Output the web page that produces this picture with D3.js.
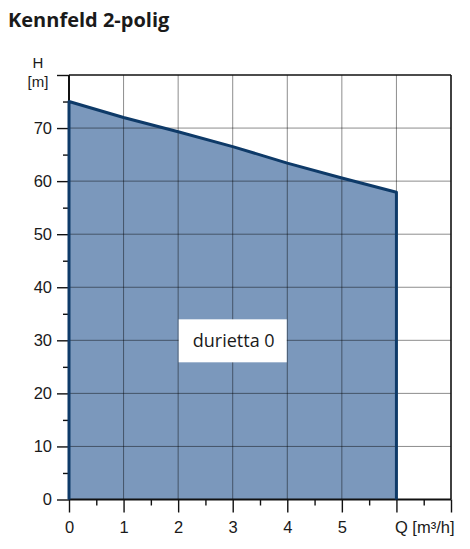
<!DOCTYPE html>
<html>
<head>
<meta charset="utf-8">
<script src="https://cdn.jsdelivr.net/npm/d3@7"></script>
<style>
  body { margin: 0; background: #fff; }
  text { font-family: 'Liberation Sans', Arial, sans-serif; fill: #1a1a1a; }
</style>
</head>
<body>
<div id="chart"></div>
<script>
// values
let flow = [0, 1, 2, 3, 4, 5, 6]
let head = [75, 72, 69.3, 66.5, 63.4, 60.6, 57.9]
let xTicks = [0, 1, 2, 3, 4, 5, 6, 7]
let xLabels = ['0', '1', '2', '3', '4', '5', 'Q [m³/h]', '']
let yTicks = [0, 10, 20, 30, 40, 50, 60, 70, 80]
let yLabels = ['0', '10', '20', '30', '40', '50', '60', '70', '']
let seriesName = 'durietta 0'

let margin = { top: 75, left: 69, right: 19, bottom: 49.5 }
let width = 470 - margin.left - margin.right
let height = 549 - margin.top - margin.bottom

let svg = d3
  .select('#chart')
  .append('svg')
  .attr('width', 470)
  .attr('height', 549)

svg
  .append('text')
  .attr('x', 8)
  .attr('y', 27)
  .style('font-family', "'Open Sans', sans-serif")
  .style('font-weight', 'bold')
  .style('font-size', '20px')
  .text('Kennfeld 2-polig')

let g = svg
  .append('g')
  .attr('transform', 'translate(' + margin.left + ',' + margin.top + ')')

let x = d3.scaleLinear().domain([0, 7]).range([0, width])
let y = d3.scaleLinear().domain([0, 80]).range([height, 0])

let points = flow.map((q, i) => [q, head[i]])

// filled region under the curve
let area = d3
  .area()
  .x(d => x(d[0]))
  .y0(y(0))
  .y1(d => y(d[1]))

g.append('path')
  .datum(points)
  .attr('d', area)
  .attr('fill', '#7b98bc')

// grid
g.selectAll('.vgrid')
  .data(xTicks.slice(1, -1))
  .enter()
  .append('line')
  .attr('x1', d => x(d))
  .attr('x2', d => x(d))
  .attr('y1', 0)
  .attr('y2', height)
  .attr('stroke', '#000')
  .attr('stroke-opacity', 0.45)
  .attr('stroke-width', 1)

g.selectAll('.hgrid')
  .data(yTicks.slice(1, -1))
  .enter()
  .append('line')
  .attr('x1', 0)
  .attr('x2', width)
  .attr('y1', d => y(d))
  .attr('y2', d => y(d))
  .attr('stroke', '#000')
  .attr('stroke-opacity', 0.45)
  .attr('stroke-width', 1)

// axes
let xAxis = d3
  .axisBottom(x)
  .tickValues(xTicks)
  .tickSize(13)
  .tickPadding(9)
  .tickFormat((d, i) => xLabels[i])

let xMinor = d3
  .axisBottom(x)
  .tickValues(d3.range(0.5, 7, 1))
  .tickSize(6)
  .tickFormat('')

let yAxis = d3
  .axisLeft(y)
  .tickValues(yTicks)
  .tickSize(12)
  .tickPadding(5)
  .tickFormat((d, i) => yLabels[i])

let yMinor = d3
  .axisLeft(y)
  .tickValues(d3.range(5, 80, 10))
  .tickSize(6)
  .tickFormat('')

let gx = g.append('g').attr('transform', 'translate(0,' + height + ')').call(xAxis)
g.append('g').attr('transform', 'translate(0,' + height + ')').call(xMinor)
let gy = g.append('g').call(yAxis)
g.append('g').call(yMinor)

g.selectAll('.domain').remove()
g.selectAll('.tick line').attr('stroke', '#111').attr('stroke-width', 1.4)
g.selectAll('.tick text').style('font-size', '16.5px').attr('fill', '#1a1a1a')

gx.selectAll('.tick text')
  .filter((d, i) => i === 6)
  .attr('text-anchor', 'start')
  .attr('dx', -2)

// frame
g.append('line').attr('x1', 0).attr('x2', width).attr('y1', height).attr('y2', height)
  .attr('stroke', '#111').attr('stroke-width', 2)
g.append('line').attr('x1', 0).attr('x2', 0).attr('y1', 0).attr('y2', height)
  .attr('stroke', '#111').attr('stroke-width', 2)
g.append('line').attr('x1', 0).attr('x2', width).attr('y1', 0).attr('y2', 0)
  .attr('stroke', '#111').attr('stroke-width', 1.6)
g.append('line').attr('x1', width).attr('x2', width).attr('y1', 0).attr('y2', height)
  .attr('stroke', '#111').attr('stroke-width', 1.6)

// curve outline
let outline = [[flow[0], 0]].concat(points, [[flow[flow.length - 1], 0]])
g.append('path')
  .datum(outline)
  .attr('d', d3.line().x(d => x(d[0])).y(d => y(d[1])))
  .attr('fill', 'none')
  .attr('stroke', '#0e3a68')
  .attr('stroke-width', 3)
  .attr('stroke-linejoin', 'round')

// y unit label
svg.append('text').attr('x', 38).attr('y', 68).attr('text-anchor', 'middle')
  .style('font-size', '15px').text('H')
svg.append('text').attr('x', 38).attr('y', 87).attr('text-anchor', 'middle')
  .style('font-size', '15px').text('[m]')

// series label box
let lx = x(3) - 54
let ly = y(30) - 21
g.append('rect')
  .attr('x', lx)
  .attr('y', ly)
  .attr('width', 108)
  .attr('height', 43)
  .attr('fill', '#fff')
g.append('text')
  .attr('x', lx + 55)
  .attr('y', ly + 28)
  .attr('text-anchor', 'middle')
  .style('font-family', "'Open Sans', sans-serif")
  .style('font-size', '18px')
  .text(seriesName)
</script>
</body>
</html>
